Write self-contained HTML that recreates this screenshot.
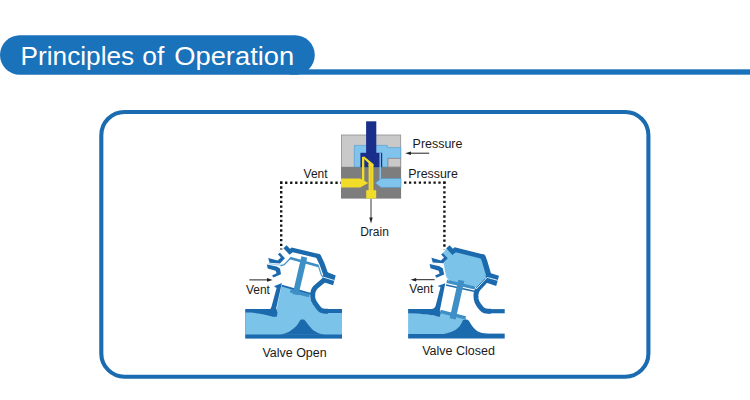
<!DOCTYPE html>
<html>
<head>
<meta charset="utf-8">
<title>Principles of Operation</title>
<style>
html,body{margin:0;padding:0;background:#fff;}
body{width:750px;height:400px;overflow:hidden;position:relative;font-family:"Liberation Sans",sans-serif;}
svg{position:absolute;left:0;top:0;display:block;}
text{font-family:"Liberation Sans",sans-serif;}
.lbl{font-size:12px;fill:#1a1a1a;}
</style>
</head>
<body>
<svg width="750" height="400" viewBox="0 0 750 400">
<!-- header -->
<g id="header">
<rect x="0" y="35.2" width="314.8" height="39.5" rx="19.75" ry="19.75" fill="#1a72ba"/>
<rect x="290" y="69.3" width="460" height="5.4" fill="#1a72ba"/>
<text y="64.7" font-size="26" fill="#ffffff"><tspan x="20.6" textLength="113.6" lengthAdjust="spacingAndGlyphs">Principles</tspan> <tspan x="142.3" textLength="22" lengthAdjust="spacingAndGlyphs">of</tspan> <tspan x="174.2" textLength="120" lengthAdjust="spacingAndGlyphs">Operation</tspan></text>
</g>
<!-- frame -->
<rect x="101.3" y="112" width="547.1" height="264.7" rx="23.2" ry="23.2" fill="none" stroke="#1b6bb0" stroke-width="4.1"/>

<!-- pilot valve -->
<g id="pilot">
<rect x="341.4" y="135" width="59.3" height="32.2" fill="#c9c9c9" stroke="#8e8e8e" stroke-width="0.8"/>
<rect x="341" y="167" width="60.1" height="31.6" fill="#7d7d7d"/>
<!-- light blue channel -->
<path d="M354.3,167 V145.4 H387.4 V147.6 H400.8 V158.2 H387.6 V167 Z" fill="#80c3ec" stroke="#4b98cc" stroke-width="0.6"/>
<rect x="388" y="158.4" width="12.7" height="8.6" fill="#c9c9c9" stroke="#8e8e8e" stroke-width="0.8"/>
<!-- navy spool -->
<rect x="366.1" y="121.3" width="10.2" height="33" fill="#1a2f8c"/>
<rect x="360.4" y="152.8" width="21.8" height="14.4" fill="#1a2f8c"/>
<!-- right thin light blue line + arrow block -->
<rect x="379.5" y="153" width="1.4" height="30" fill="#8cc8ee"/>
<path d="M401,178.5 H381 L375.4,183 L381,187.4 H401 Z" fill="#80c3ec" stroke="#4b98cc" stroke-width="0.5"/>
<!-- yellow -->
<path d="M341,178.4 H360.2 L368.2,183 L360.2,187.5 H341 Z" fill="#f2dc2a"/>
<rect x="362" y="157" width="2.3" height="27" fill="#f2dc2a"/>
<path d="M362,157 L364.2,156.6 L373.4,164 V166.4 L368.6,166.4 L368.6,163.2 Z" fill="#f2dc2a"/>
<rect x="368.6" y="164" width="4.8" height="27" fill="#f2dc2a"/>
<rect x="370.5" y="166.5" width="1" height="23.5" fill="#d9c22a"/>
<rect x="366.2" y="190.2" width="10" height="8.3" fill="#f2dc2a"/>
</g>

<!-- valve open -->
<g id="valveopen">
<!-- pipe -->
<rect x="245.2" y="309" width="96.8" height="29.6" fill="#1c6aae"/>
<path d="M245.2,312.6 C255,312.6 262,313.5 272,316.5 L275,316.8 L281.6,285.2 L311,293.8 L310.2,297 C310.5,302 315,307.5 319,310.5 C321,312.5 323,313.1 325,313.1 H342 V334.5 H245.2 Z" fill="#7bc3e9"/>
<!-- hump -->
<path d="M279,334.8 Q287,333.6 291.5,330 Q295,327.6 297.2,325 L300,320.4 Q300.5,319.5 301.5,319.5 L303.5,319.5 Q304.5,319.5 305,320.4 L308.5,325 Q310.5,327.6 313,330 Q317,333.4 325,334.8 Z" fill="#1c6aae"/>
<!-- left wall -->
<path d="M274,286.2 L281.9,283.1 L276,309 L277.5,312.6 L276.8,316.8 L272,316.2 L270.2,309.2 L271.4,307 L276.6,288 Z" fill="#1c6aae"/>
<!-- neck C curve -->
<path d="M324.2,279.8 L315.6,287.2 Q312.9,289.9 312.8,293.4 L312.7,297 Q312.8,300 314.8,302.8 L318.2,307.6 Q320.6,311.1 325,311.2 H328" fill="none" stroke="#1c6aae" stroke-width="4.9"/>
<!-- seat line -->
<path d="M281.8,285.6 L311,293.8" stroke="#1c6aae" stroke-width="1.8" fill="none"/>
<!-- right flange -->
<path d="M326.4,271.8 L335.7,275.6 L333.1,285.3 L321.5,281.5 L323.5,274 Z" fill="#1c6aae"/>
<path d="M322.3,276.8 L334.4,280.5" stroke="#dceef9" stroke-width="1" fill="none"/>
<!-- bonnet -->
<path d="M285,246.7 L289.8,251.8 L292.2,249.9 L318.4,256.2" fill="none" stroke="#1c6aae" stroke-width="4.3" stroke-linejoin="miter" stroke-linecap="butt"/>
<path d="M318.5,256.4 L322,263.8 L325.4,273.4" fill="none" stroke="#1c6aae" stroke-width="5.1" stroke-linejoin="round" stroke-linecap="round"/>
<!-- left flanges -->
<path d="M268.2,257.9 L277.7,260.6 L280.8,257.6 L277.9,254.2 L279.9,252.7 L284.9,258.2 L280,263.5 L269.5,262.7 Z" fill="#1c6aae"/>
<path d="M266.8,264.6 L276.7,266.6 L280,268.6 L281,274.2 L273.4,277.6 L272,275.5 L276.6,273.2 L275.6,270.8 L267.7,268.6 Z" fill="#1c6aae"/>
<!-- membrane -->
<path d="M268.4,263.6 L280.6,265.2" fill="none" stroke="#a9d3ef" stroke-width="1.2"/>
<path d="M280.4,265.7 L284.2,264.7 L290.2,258.5" fill="none" stroke="#4f9bd0" stroke-width="1.5"/>
<path d="M318.4,266 L321.4,275.2 L323.3,277" fill="none" stroke="#4f9bd0" stroke-width="1.2"/>
<!-- stem -->
<path d="M304.3,257 L295.5,294.6" stroke="#3d8fc6" stroke-width="5.9" fill="none"/>
<path d="M289.9,258 L318.6,266" stroke="#3d8fc6" stroke-width="2.7" fill="none"/>
<path d="M290.3,290.9 L309.2,295.6" stroke="#3d8fc6" stroke-width="3.4" fill="none"/>
</g>

<!-- valve closed -->
<g id="valveclosed">
<!-- pipe bottom wall -->
<rect x="408.1" y="333.6" width="96.6" height="4.9" fill="#1c6aae"/>
<!-- fluid -->
<path d="M408.1,313 C426,313.6 432,315 440,317 L440.6,311.6 L465.2,317.8 L470,326 L455,334 H408.1 Z" fill="#7bc3e9"/>
<!-- hump -->
<path d="M444,333.9 C452,332.6 457,329.5 459.8,326 C461.5,323.5 462.2,321.5 463,320 L466.6,319.5 C468,319.5 468.8,320.5 469.6,322 C471.5,325.5 474,329 477.5,331.3 C480.5,333 483.5,333.7 488,333.9 Z" fill="#1c6aae"/>
<!-- left wall + top-left pipe wall -->
<path d="M408.1,309.1 L431.5,309.1 Q434.8,308.6 435.7,305.4 L440.5,287.2 L437.6,285.9 L445.3,283.2 L439.8,310.4 L440.9,313.2 L439.7,317 L437,316.4 C432,315 426,313.9 408.1,313.3 Z" fill="#1c6aae"/>
<!-- C neck + top-right wall -->
<path d="M486.5,279.8 L478.6,288.2 Q475.9,291.4 475.9,295 L476.2,299 Q476.6,302.4 479,305.4 L481.6,308.6 Q483.8,311.2 488,311.2 H491" fill="none" stroke="#1c6aae" stroke-width="4.9"/>
<rect x="488" y="309.1" width="16.7" height="4.2" fill="#1c6aae"/>
<!-- chamber -->
<path d="M443,252.8 L447.4,248 L452.4,252.4 L456,250 L483,256.8 L488.3,274.5 L476.5,287 L448.5,280.8 L446.3,277.5 L443.6,263.6 L447.6,258.2 Z" fill="#7bc3e9"/>
<!-- diaphragm -->
<path d="M446.8,281.4 L475,288" stroke="#3d8fc6" stroke-width="3.2" fill="none"/>
<!-- seat line -->
<path d="M446,285 L474,291.2" stroke="#1c6aae" stroke-width="1.5" fill="none"/>
<!-- right flange -->
<path d="M489.3,272.8 L499,275.7 L496.2,286 L485,282.3 L486,274.5 Z" fill="#1c6aae"/>
<path d="M476.2,289 L487.2,277.4 L497.8,280.4" stroke="#e4f1fa" stroke-width="1" fill="none"/>
<!-- bonnet -->
<path d="M447.9,246.8 L452.6,251.9 L455.2,249.7 L483,256.7" fill="none" stroke="#1c6aae" stroke-width="4.6" stroke-linejoin="miter"/>
<path d="M483,257 L484.4,260.6 L488.5,274.6" fill="none" stroke="#1c6aae" stroke-width="5.3" stroke-linejoin="round" stroke-linecap="round"/>
<!-- left flanges -->
<path d="M431.4,257.7 L440.9,260.4 L444,257.6 L441.1,254.6 L443.1,253.1 L447.9,258.2 L443.2,263.3 L432.7,262.5 Z" fill="#1c6aae"/>
<path d="M429.6,264 L439.5,266.3 L442.9,268.5 L444.2,274.5 L436.5,277.7 L435,275.6 L439.6,273.4 L438.6,270.8 L430.5,268.2 Z" fill="#1c6aae"/>
<path d="M431.4,263.2 L442.9,266.2 L445.6,276 L448.6,280.6" fill="none" stroke="#eef5fb" stroke-width="0.8"/>
<!-- stem -->
<path d="M461.3,280.3 L452.65,318.8" stroke="#3d8fc6" stroke-width="6.1" fill="none"/>
<path d="M440.3,311.3 L465.6,317.8" stroke="#3d8fc6" stroke-width="3.4" fill="none"/>
</g>
<!-- dotted lines -->
<g fill="none" stroke="#151515" stroke-width="2.4">
<path d="M280.05,182.7 H341" stroke-dasharray="2.3 2.73"/>
<path d="M281.2,181.55 V249.5" stroke-dasharray="2.3 2.48"/>
<path d="M445.55,182.6 H401.5" stroke-dasharray="2.3 2.6"/>
<path d="M444.4,181.45 V249.6" stroke-dasharray="2.3 2.54"/>
</g>
<!-- arrows -->
<g stroke="#222" stroke-width="1" fill="#222">
<path d="M371,199 V219" fill="none" stroke-width="0.9"/>
<path d="M371,223.6 L369.3,217.4 H372.7 Z" stroke="none"/>
<path d="M429.2,153.2 H409.5" fill="none"/>
<path d="M405.2,153.2 L411,151.5 V154.9 Z" stroke="none"/>
<path d="M249.3,279.9 H268.5" fill="none"/>
<path d="M272.6,279.9 L267,278.1 V281.7 Z" stroke="none"/>
<path d="M434.6,279.7 H415" fill="none"/>
<path d="M410.6,279.7 L416.2,277.9 V281.5 Z" stroke="none"/>
</g>
<!-- labels -->
<g class="lbl">
<text x="412.6" y="148.4" font-size="12.45">Pressure</text>
<text x="408.3" y="177.6" font-size="12.4">Pressure</text>
<text x="303.6" y="177.7">Vent</text>
<text x="360.2" y="236">Drain</text>
<text x="245.9" y="294">Vent</text>
<text x="409.3" y="293">Vent</text>
<text x="262.5" y="357.4" font-size="12.45">Valve Open</text>
<text x="422.2" y="354.6" font-size="12.5">Valve Closed</text>
</g>
</svg>
</body>
</html>
